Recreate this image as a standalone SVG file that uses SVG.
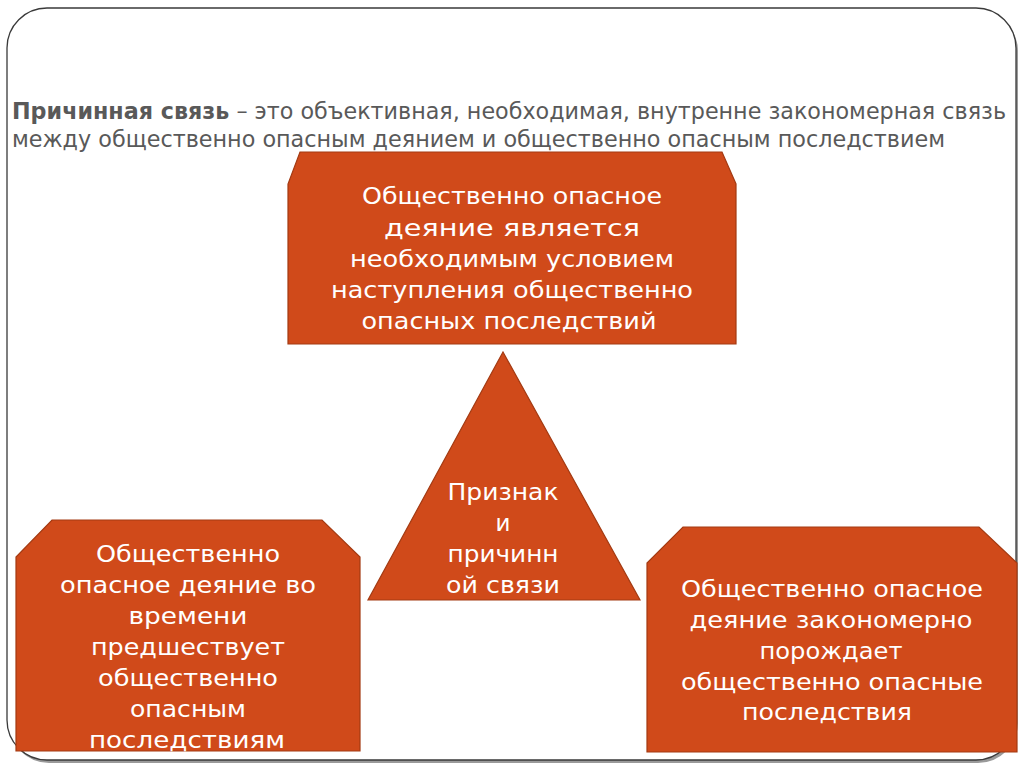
<svg xmlns="http://www.w3.org/2000/svg" width="1024" height="768" viewBox="0 0 1024 768">
<defs>
<style>
.box{fill:#D04A1A;stroke:#A33A12;stroke-width:1.2}
.bt{font-family:"DejaVu Sans","Noto Sans",sans-serif;font-size:23px;fill:#ffffff;text-anchor:middle}
.hd{font-family:"DejaVu Sans","Noto Sans",sans-serif;font-size:23px;fill:#595959}
</style>
</defs>
<rect x="0" y="0" width="1024" height="768" fill="#ffffff"/>
<g id="frame">
<rect x="9" y="11" width="1009" height="752" rx="40" ry="40" fill="#9a9a9a"/>
<rect x="7" y="8" width="1009" height="752" rx="40" ry="40" fill="#ffffff" stroke="#3a3a3a" stroke-width="1.3"/>
</g>
<g id="heading">
<text class="hd" x="12" y="119" textLength="994" lengthAdjust="spacingAndGlyphs"><tspan font-weight="bold">Причинная связь</tspan> – это объективная, необходимая, внутренне закономерная связь</text>
<text class="hd" x="12" y="147" textLength="933" lengthAdjust="spacingAndGlyphs">между общественно опасным деянием и общественно опасным последствием</text>
</g>
<g id="connectors"></g>
<g id="node-top">
<polygon class="box" points="300,152 722,152 736,184 736,344 288,344 288,184"/>
<text class="bt" x="512" y="204" textLength="300" lengthAdjust="spacingAndGlyphs">Общественно опасное</text>
<text class="bt" x="512" y="236" textLength="256" lengthAdjust="spacingAndGlyphs">деяние является</text>
<text class="bt" x="512" y="267" textLength="324" lengthAdjust="spacingAndGlyphs">необходимым условием</text>
<text class="bt" x="512" y="298" textLength="362" lengthAdjust="spacingAndGlyphs">наступления общественно</text>
<text class="bt" x="509" y="329" textLength="295" lengthAdjust="spacingAndGlyphs">опасных последствий</text>
</g>
<g id="node-center">
<polygon class="box" points="503,352 640,600 368,600"/>
<text class="bt" x="503" y="500" textLength="111" lengthAdjust="spacingAndGlyphs">Признак</text>
<text class="bt" x="503" y="531">и</text>
<text class="bt" x="503" y="562" textLength="111" lengthAdjust="spacingAndGlyphs">причинн</text>
<text class="bt" x="503" y="593" textLength="114" lengthAdjust="spacingAndGlyphs">ой связи</text>
</g>
<g id="node-left">
<polygon class="box" points="52,520 322,520 360,557 360,751 16,751 16,557"/>
<text class="bt" x="188" y="562" textLength="184" lengthAdjust="spacingAndGlyphs">Общественно</text>
<text class="bt" x="188" y="593" textLength="256" lengthAdjust="spacingAndGlyphs">опасное деяние во</text>
<text class="bt" x="188" y="624" textLength="119" lengthAdjust="spacingAndGlyphs">времени</text>
<text class="bt" x="188" y="655" textLength="194" lengthAdjust="spacingAndGlyphs">предшествует</text>
<text class="bt" x="188" y="686" textLength="180" lengthAdjust="spacingAndGlyphs">общественно</text>
<text class="bt" x="188" y="717" textLength="116" lengthAdjust="spacingAndGlyphs">опасным</text>
<text class="bt" x="187" y="748" textLength="196" lengthAdjust="spacingAndGlyphs">последствиям</text>
</g>
<g id="node-right">
<polygon class="box" points="683,527 979,527 1017,563 1017,752 647,752 647,563"/>
<text class="bt" x="832" y="597" textLength="302" lengthAdjust="spacingAndGlyphs">Общественно опасное</text>
<text class="bt" x="831" y="628" textLength="283" lengthAdjust="spacingAndGlyphs">деяние закономерно</text>
<text class="bt" x="831" y="659" textLength="143" lengthAdjust="spacingAndGlyphs">порождает</text>
<text class="bt" x="832" y="690" textLength="302" lengthAdjust="spacingAndGlyphs">общественно опасные</text>
<text class="bt" x="827" y="720" textLength="170" lengthAdjust="spacingAndGlyphs">последствия</text>
</g>
</svg>
